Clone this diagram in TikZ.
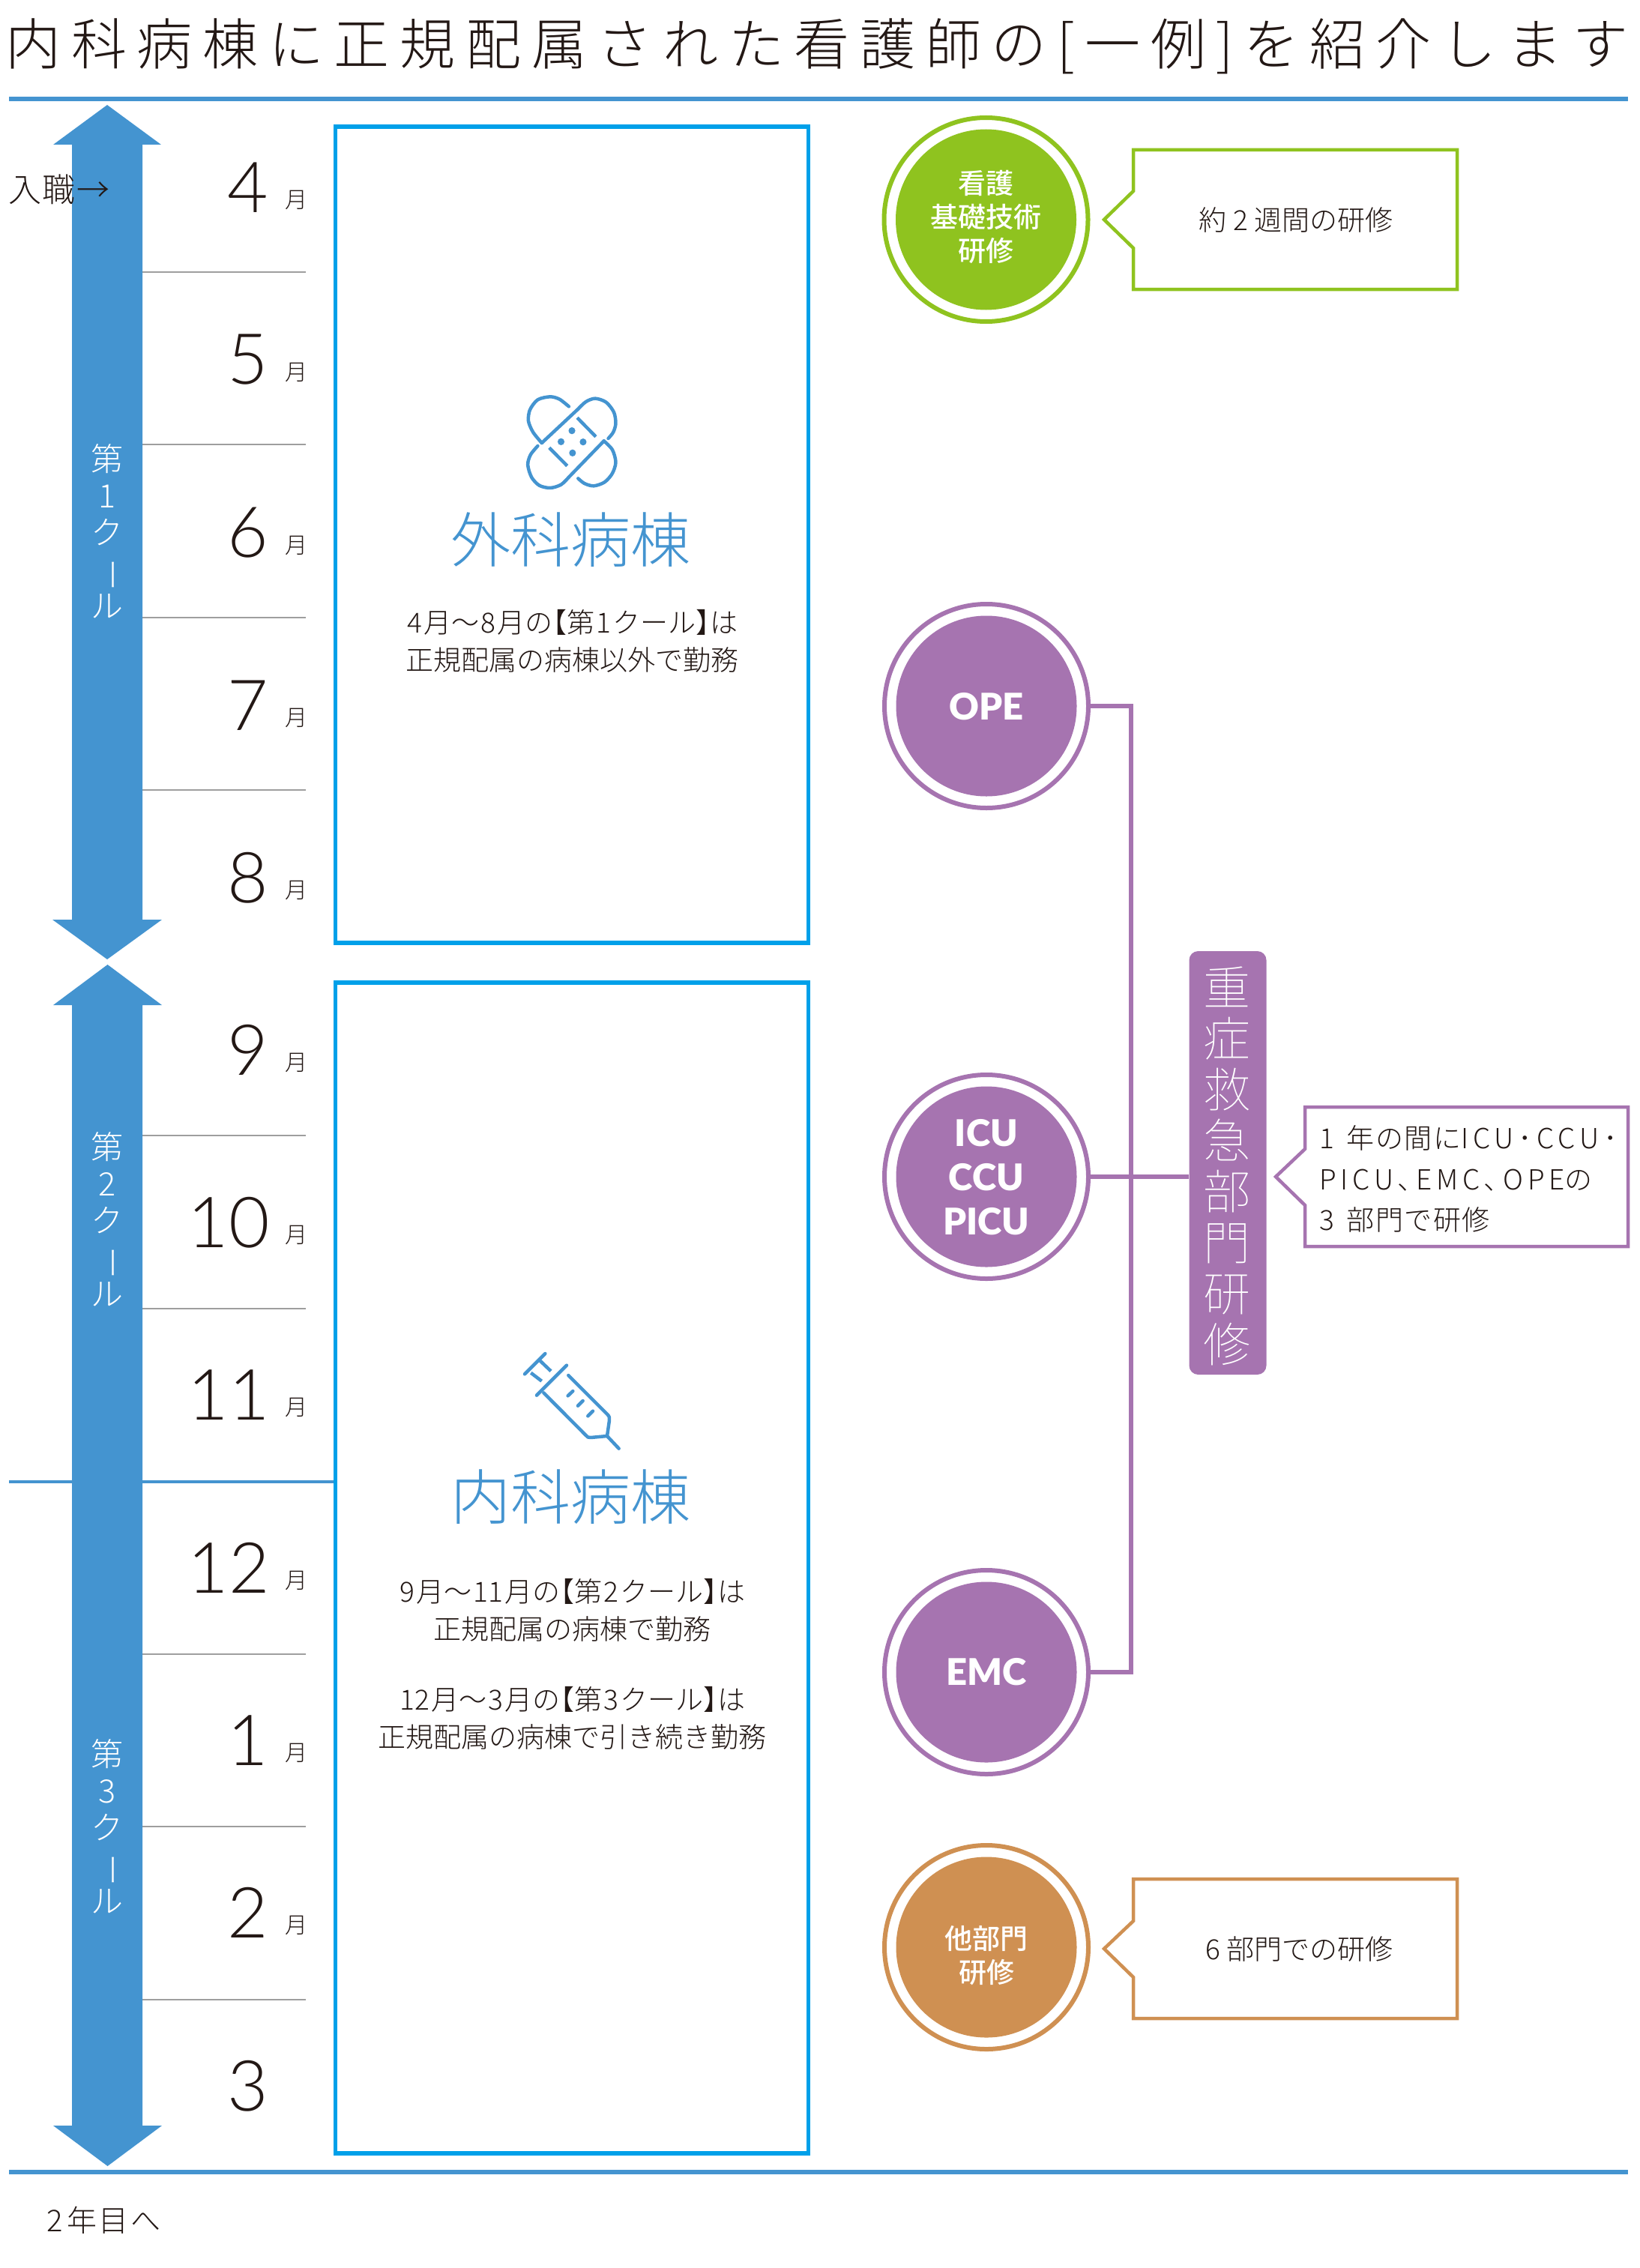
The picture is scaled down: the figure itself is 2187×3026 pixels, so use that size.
\documentclass[tikz,border=0pt]{standalone}
\usepackage{fontspec}
\setmainfont{Noto Sans CJK JP}[UprightFont=* Light,BoldFont=* Medium]
\newfontfamily\thinjp{Noto Sans CJK JP Thin}
\newfontfamily\digitfont{Lato Light}
\newfontfamily\labfont{Lato Black}
\definecolor{inkdark}{HTML}{231815}
\definecolor{bluea}{HTML}{4494D0}
\definecolor{blueb}{HTML}{00A0E9}
\definecolor{greenc}{HTML}{8FC31F}
\definecolor{purplec}{HTML}{A674B0}
\definecolor{orangec}{HTML}{CF9052}
\newcommand\dg[1]{\hspace{2pt}#1\hspace{2pt}}
\newcommand\dgb[1]{\hspace{9pt}#1\hspace{9pt}}
\newcommand\lbr{\hspace{-18pt}【}
\newcommand\rbr{】\hspace{-18pt}}
\newcommand\tate{\rotatebox[origin=c]{-90}{ー}}
\newcommand\spc[1]{{\addfontfeature{LetterSpace=16}#1}}
\tikzset{
  txt/.style={inner sep=0pt,outer sep=0pt,text=inkdark,align=center},
  body/.style={txt,font=\fontsize{37}{50}\selectfont},
  digit/.style={txt,font=\digitfont\fontsize{94}{94}\selectfont},
  tsuki/.style={txt,font=\fontsize{30}{30}\selectfont},
  cour/.style={txt,text=white,font=\fontsize{43}{49}\selectfont},
  ward/.style={txt,text=bluea,font=\fontsize{80}{80}\selectfont},
  ringo/.style={circle,draw=#1,fill=white,line width=6pt,minimum size=272pt,inner sep=0pt,outer sep=3pt},
  disc/.style={circle,fill=#1,minimum size=241pt,inner sep=0pt},
  jpbold/.style={txt,text=white,font=\bfseries\fontsize{37}{45}\selectfont},
  enbold/.style={txt,text=white,font=\labfont\fontsize{49}{59}\selectfont},
  callout/.style={draw=#1,line width=4.5pt,fill=white,line join=miter},
  conn/.style={draw=purplec,line width=5.5pt},
  frame/.style={draw=blueb,line width=5.5pt},
  rule/.style={draw=bluea,line width=6pt},
  month/.style={draw=black!38,line width=1.8pt},
  icon/.style={draw=bluea,line width=4.5pt,line cap=round,line join=round}
}
\begin{document}
\begin{tikzpicture}[x=1pt,y=-1pt]
\useasboundingbox (0,0) rectangle (2187,3026);
% title
\node[txt,anchor=center,font=\addfontfeature{LetterSpace=18.5}\fontsize{74}{74}\selectfont] (title) at (1090,62) {内科病棟に正規配属された看護師の[一例]を紹介します};
\draw[rule] (12,132.5) -- (2172,132.5);
\draw[rule] (12,2898) -- (2172,2898);
% blue boundary
\draw[draw=bluea,line width=4.5pt] (12,1977) -- (445,1977);
% month rules
\foreach \yy in {363,593,824,1054,1515,1746,2207,2437,2668}{\draw[month] (190,\yy) -- (408,\yy);}
% arrows
\fill[bluea] (143,140) -- (215,193) -- (190,193) -- (190,1227) -- (216,1227) -- (143,1280) -- (70,1227) -- (96,1227) -- (96,193) -- (71,193) -- cycle;
\fill[bluea] (143.5,1287) -- (216,1341) -- (190,1341) -- (190,2836) -- (216,2836) -- (143.5,2890) -- (71,2836) -- (96,2836) -- (96,1341) -- (71,1341) -- cycle;
\node[cour] (c1) at (143,709) {第\\1\\ク\\\tate\\ル};
\node[cour] (c2) at (143,1627) {第\\2\\ク\\\tate\\ル};
\node[cour] (c3) at (143,2437) {第\\3\\ク\\\tate\\ル};
\node[txt,anchor=west,font=\fontsize{44}{44}\selectfont\addfontfeature{LetterSpace=4}] (nyu) at (11,253) {入職→};
\node[txt,anchor=west,font=\fontsize{40}{40}\selectfont\addfontfeature{LetterSpace=6}] (next) at (62,2962) {2\hspace{6pt}年目へ};
% months
\node[digit] (m4) at (331,250) {4}; \node[tsuki] (t4) at (395,267) {月};
\node[digit] (m5) at (331,480) {5}; \node[tsuki] (t5) at (395,497) {月};
\node[digit] (m6) at (331,711) {6}; \node[tsuki] (t6) at (395,728) {月};
\node[digit] (m7) at (331,941) {7}; \node[tsuki] (t7) at (395,958) {月};
\node[digit] (m8) at (331,1171) {8}; \node[tsuki] (t8) at (395,1188) {月};
\node[digit] (m9) at (331,1401) {9}; \node[tsuki] (t9) at (395,1418) {月};
\node[digit] (m10) at (305,1631) {10}; \node[tsuki] (t10) at (395,1648) {月};
\node[digit] (m11) at (305,1861) {11}; \node[tsuki] (t11) at (395,1878) {月};
\node[digit] (m12) at (305,2092) {12}; \node[tsuki] (t12) at (395,2109) {月};
\node[digit] (m1) at (331,2322) {1}; \node[tsuki] (t1) at (395,2339) {月};
\node[digit] (m2) at (331,2552) {2}; \node[tsuki] (t2) at (395,2569) {月};
\node[digit] (m3) at (331,2783) {3};
% frames
\draw[frame] (447.5,169) rectangle (1078.5,1258);
\draw[frame] (447.5,1311) rectangle (1078.5,2873);
% bandage icon
\begin{scope}[shift={(450,480)},xscale=0.4146,yscale=0.3333]
\draw[icon] plot[smooth] coordinates {(745,187) (715,158) (685,148) (645,160) (620,200) (615,245) (630,290) (658,333)};
\draw[icon] (658,333) -- (775,197);
\draw[icon] plot[smooth] coordinates {(775,197) (800,168) (830,155) (865,170) (890,210) (896,255) (888,290) (872,315)};
\draw[icon] plot[smooth] coordinates {(645,345) (622,380) (613,420) (625,470) (650,503) (685,513) (720,500) (745,470)};
\draw[icon] (745,470) -- (858,325);
\draw[icon] plot[smooth] coordinates {(858,325) (885,360) (896,410) (885,455) (860,490) (825,505) (795,495) (775,475)};
\draw[icon,line cap=butt] (772,232) -- (832,308);
\draw[icon,line cap=butt] (682,352) -- (740,425);
\foreach \px/\py in {755/284,720/328,791/329,757/373}{\fill[bluea] (\px,\py) ellipse (11 and 14);}
\end{scope}
\node[ward] (geka) at (761,720) {外科病棟};
\node[body] (gekat) at (763,855) {\dg{4}月～\dg{8}月の\lbr 第\dg{1}クール\rbr は\\正規配属の病棟以外で勤務};
% syringe icon
\begin{scope}[shift={(620,1760)},scale=0.3333]
\draw[icon] (240,220) -- (322,138);
\draw[icon,line cap=butt] (300,165) -- (345,208);
\draw[icon,line cap=butt] (265,215) -- (308,248);
\draw[icon] (288,305) -- (408,185);
\draw[icon] (415,225) -- (570,380) .. controls (580,390) and (580,395) .. (579,405) -- (570,468) -- (505,474) .. controls (495,475) and (490,472) .. (485,465) -- (316,295);
\draw[icon] (570,468) -- (617,518);
\draw[icon] (413,307) -- (433,288);
\draw[icon] (453,347) -- (473,327);
\draw[icon] (493,388) -- (513,368);
\end{scope}
\node[ward] (naika) at (761,1997) {内科病棟};
\node[body] (naikat1) at (763,2148) {\dg{9}月～\dg{11}月の\lbr 第\dg{2}クール\rbr は\\正規配属の病棟で勤務};
\node[body] (naikat2) at (763,2292) {\dg{12}月～\dg{3}月の\lbr 第\dg{3}クール\rbr は\\正規配属の病棟で引き続き勤務};
% rings
\node[ringo=greenc] (kisoR) at (1315.5,293) {};
\node[disc=greenc] (kisoD) at (1315.5,293) {};
\node[jpbold] (kiso) at (1315.5,290) {看護\\基礎技術\\研修};
\node[ringo=purplec] (opeR) at (1316,942) {};
\node[disc=purplec] (opeD) at (1316,942) {};
\node[enbold] (ope) at (1316,943) {OPE};
\node[ringo=purplec] (icuR) at (1316,1570) {};
\node[disc=purplec] (icuD) at (1316,1570) {};
\node[enbold] (icu) at (1316,1571) {ICU\\CCU\\PICU};
\node[ringo=purplec] (emcR) at (1316,2231) {};
\node[disc=purplec] (emcD) at (1316,2231) {};
\node[enbold] (emc) at (1316,2231) {EMC};
\node[ringo=orangec] (otherR) at (1316,2598) {};
\node[disc=orangec] (otherD) at (1316,2598) {};
\node[jpbold] (other) at (1316,2609) {他部門\\研修};
% callouts
\draw[callout=greenc] (1512,200) -- (1944,200) -- (1944,386) -- (1512,386) -- (1512,331) -- (1473,293) -- (1512,255) -- cycle;
\node[body] (kisoT) at (1729,293) {約\dgb{2}週間の研修};
\draw[callout=orangec] (1512,2507) -- (1944,2507) -- (1944,2693) -- (1512,2693) -- (1512,2638) -- (1473,2600) -- (1512,2563) -- cycle;
\node[body] (otherT) at (1729,2600) {\dgb{6}部門での研修};
\draw[callout=purplec] (1741,1477) -- (2172,1477) -- (2172,1663) -- (1741,1663) -- (1741,1608) -- (1702,1570) -- (1741,1533) -- cycle;
\node[body,anchor=west,align=left,font=\fontsize{37}{54.5}\selectfont\addfontfeature{LetterSpace=4}] (icuT) at (1760,1573) {1\hspace{17pt}年の間に\spc{ICU･CCU･}\\\spc{PICU､EMC､OPE}の\\3\hspace{17pt}部門で研修};
% heavy label
\node[fill=purplec,rounded corners=12pt,minimum width=103pt,minimum height=565pt,inner sep=0pt] (heavy) at (1638,1551.5) {};
\node[txt,text=white,font=\thinjp\fontsize{63}{68}\selectfont] (heavyT) at (1637,1556) {重\\症\\救\\急\\部\\門\\研\\修};
% connectors
\coordinate (trunk) at (1509,942);
\draw[conn] (opeR.east) -- (trunk) |- (emcR.east);
\draw[conn] (icuR.east) -- (icuR.east -| heavy.west);
\end{tikzpicture}
\end{document}
